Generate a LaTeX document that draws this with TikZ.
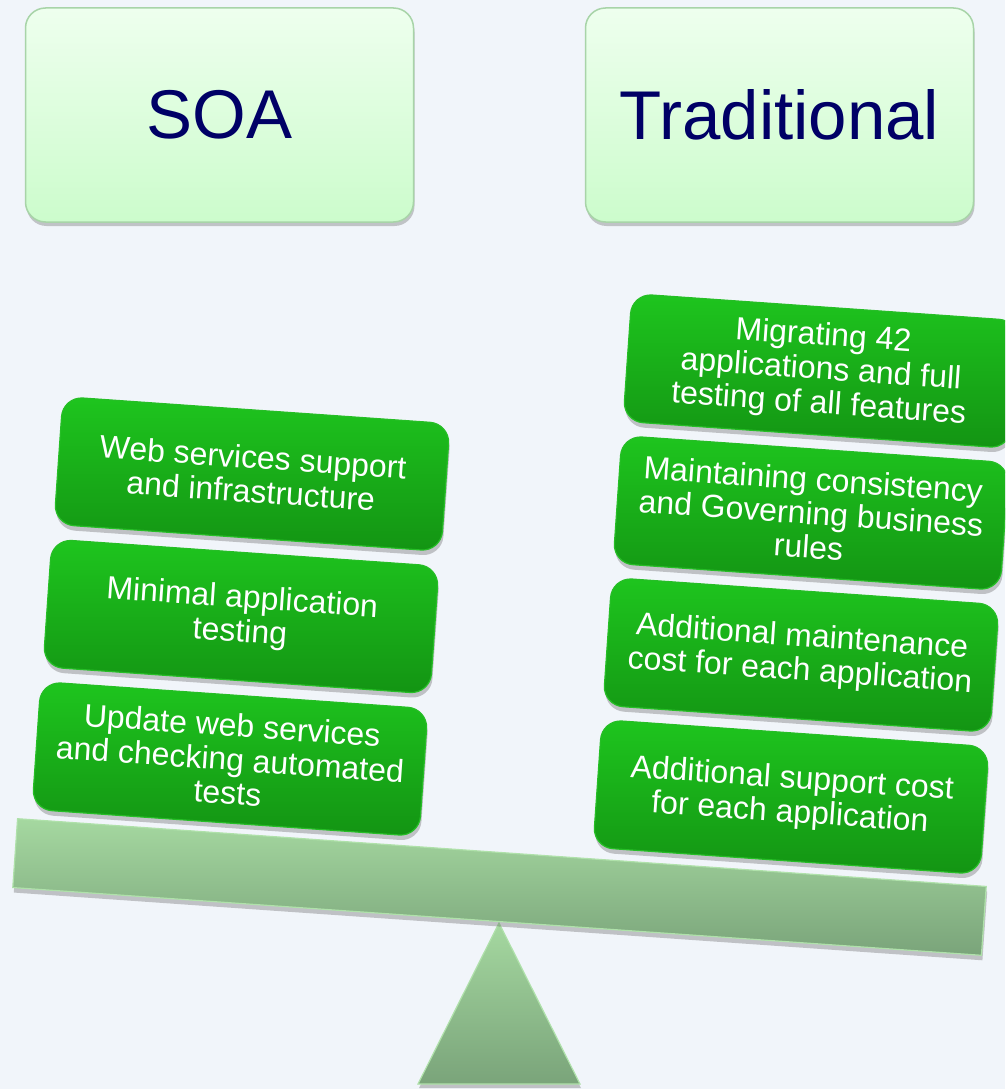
\documentclass[tikz,border=0pt]{standalone}
\usepackage{fontspec}
\setmainfont{Liberation Sans}
\usetikzlibrary{shadows}
\definecolor{bgc}{RGB}{241,245,250}
\definecolor{navytxt}{RGB}{0,0,102}
\definecolor{titletop}{RGB}{238,255,238}
\definecolor{titlebot}{RGB}{204,252,204}
\definecolor{titleedge}{RGB}{168,212,168}
\definecolor{gtop}{RGB}{30,197,30}
\definecolor{gbot}{RGB}{19,148,19}
\definecolor{gedge}{RGB}{38,190,38}
\definecolor{btop}{RGB}{165,216,160}
\definecolor{bbot}{RGB}{122,164,122}
\definecolor{bedge}{RGB}{175,225,170}
\tikzset{
  titlebox/.style={rectangle, rounded corners=20pt, minimum width=388pt, minimum height=214pt,
    inner sep=0pt, top color=titletop, bottom color=titlebot, draw=titleedge, line width=1.5pt,
    drop shadow={shadow xshift=1pt, shadow yshift=-4pt, opacity=0.35, fill=black!60},
    text=navytxt, font=\fontsize{69pt}{75pt}\selectfont},
  itembox/.style={rectangle, rounded corners=20pt, minimum width=388pt, minimum height=128pt,
    inner sep=0pt, rotate=-4, top color=gtop, bottom color=gbot, draw=gedge, line width=1.2pt,
    drop shadow={shadow xshift=1pt, shadow yshift=-5pt, opacity=0.3, fill=black!70},
    text=white, align=center, font=\fontsize{32pt}{34pt}\selectfont},
  beam/.style={rectangle, minimum width=971pt, minimum height=69pt, inner sep=0pt, rotate=-4,
    top color=btop, bottom color=bbot, draw=bedge, line width=1.2pt,
    drop shadow={shadow xshift=1pt, shadow yshift=-5pt, opacity=0.3, fill=black!70}},
  fulcrum/.style={top color=btop, bottom color=bbot, draw=bedge, line width=1.2pt,
    drop shadow={shadow xshift=1pt, shadow yshift=-4pt, opacity=0.3, fill=black!70}}
}
\begin{document}
\begin{tikzpicture}[x=1pt,y=-1pt]
\useasboundingbox (0,0) rectangle (1005,1089);
\clip (0,0) rectangle (1005,1089);
\fill[bgc] (0,0) rectangle (1005,1089);

% title boxes
\node[titlebox] (soa) at (219.5,115) {SOA};
\node[titlebox] (trad) at (779.5,115) {Traditional};

% fulcrum and beam
\coordinate (apex) at (499,923);
\coordinate (bl) at (418,1084);
\coordinate (br) at (580,1084);
\path[fulcrum] (apex) -- (br) -- (bl) -- cycle;
\node[beam] (beam) at (499.5,887) {};

% left stack (SOA)
\node[itembox] (l1) at (252,474) {Web services support\\and infrastructure};
\node[itembox] (l2) at (241,616.5) {Minimal application\\testing};
\node[itembox] (l3) at (230,759) {Update web services\\and checking automated\\tests};

% right stack (Traditional)
\node[itembox] (r1) at (821,371) {Migrating 42\\applications and full\\testing of all features};
\node[itembox] (r2) at (811,513) {Maintaining consistency\\and Governing business\\rules};
\node[itembox] (r3) at (801,655) {Additional maintenance\\cost for each application};
\node[itembox] (r4) at (791,797) {Additional support cost\\for each application};
\end{tikzpicture}
\end{document}
